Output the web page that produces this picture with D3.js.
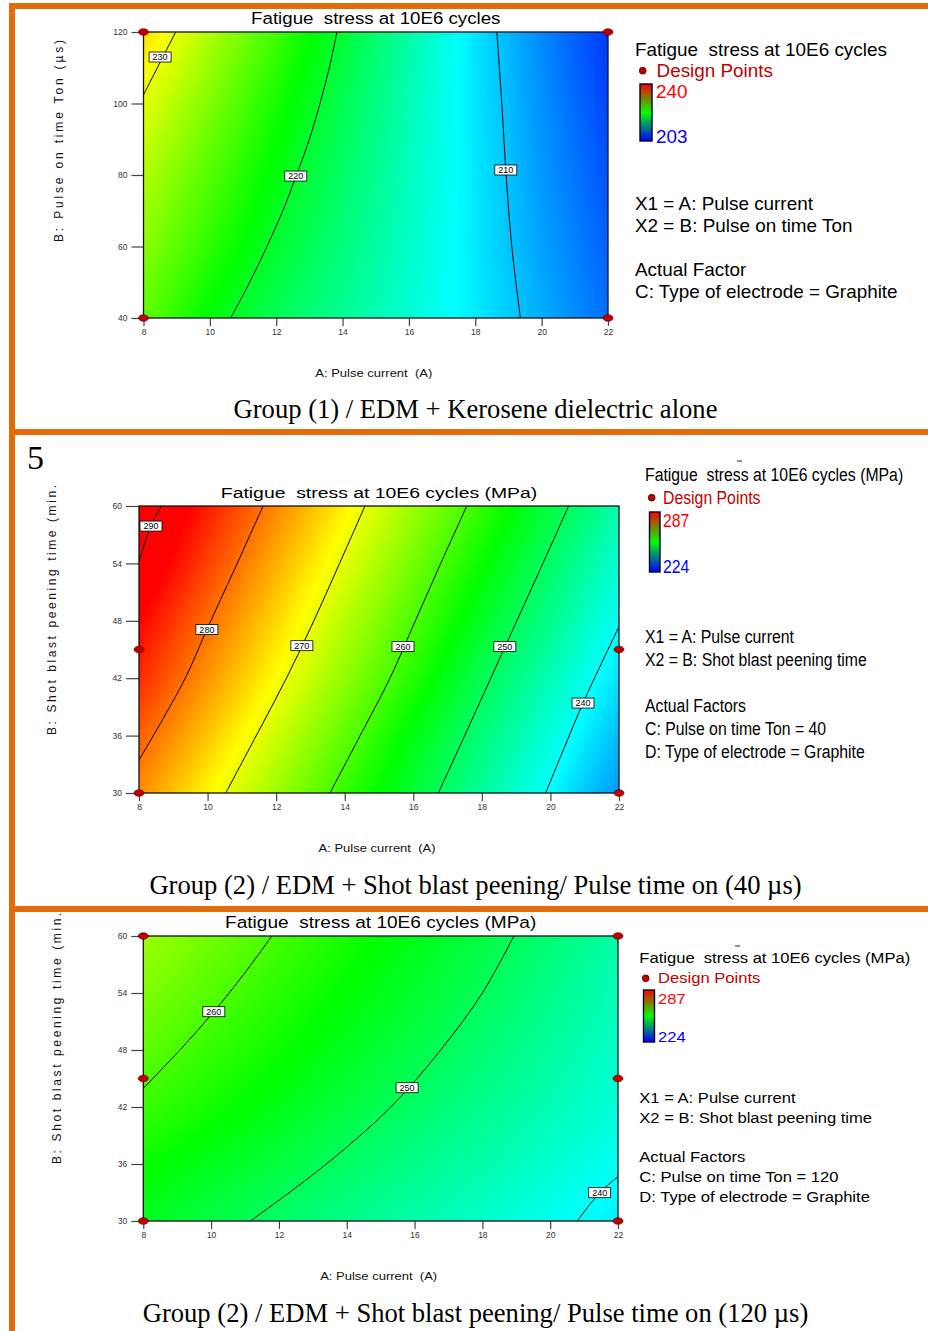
<!DOCTYPE html>
<html>
<head>
<meta charset="utf-8">
<script src="https://cdn.jsdelivr.net/npm/d3@7"></script>
<style>
  html, body { margin: 0; padding: 0; background: #fff; }
  svg { display: block; }
</style>
</head>
<body>
<svg id="chart" width="928" height="1331"></svg>
<script>
// factor levels: grid nodes and axis ticks
const pulseCurrent = [8, 10, 12, 14, 16, 18, 20, 22];
const pulseOnTime = [40, 60, 80, 100, 120];
const peeningTime = [30, 36, 42, 48, 54, 60];

// fatigue stress at the grid nodes (rows = B levels, cols = A levels)
const stressKerosene = [
  [225.0, 221.2, 218.4, 216.1, 213.8, 211.6, 209.3, 207.0],
  [226.5, 223.1, 219.8, 217.0, 214.3, 211.5, 208.9, 206.5],
  [228.0, 224.5, 221.0, 217.8, 214.6, 211.5, 208.6, 206.0],
  [229.8, 226.1, 222.3, 218.6, 215.0, 211.4, 208.3, 205.5],
  [232.0, 227.9, 223.8, 219.6, 215.5, 211.3, 208.0, 205.0]
];
const stressPeen40 = [
  [278.3, 271.7, 265.2, 258.6, 252.3, 245.9, 239.6, 233.3],
  [281.3, 274.8, 268.1, 261.4, 254.5, 248.1, 241.9, 235.6],
  [284.5, 277.8, 271.2, 264.4, 257.7, 250.5, 244.2, 238.0],
  [287.0, 280.3, 273.7, 266.8, 260.2, 253.3, 246.9, 240.2],
  [290.0, 283.0, 276.2, 269.5, 262.7, 255.9, 249.2, 242.4],
  [292.2, 285.4, 278.7, 272.0, 265.2, 258.5, 251.7, 245.0]
];
const stressPeen120 = [
  [253.5, 251.2, 249.1, 247.0, 245.0, 242.9, 240.8, 238.8],
  [256.0, 253.8, 251.6, 249.3, 247.1, 244.9, 242.6, 240.4],
  [259.1, 256.6, 254.1, 251.6, 249.2, 246.8, 244.4, 242.0],
  [261.4, 258.8, 256.2, 253.6, 251.0, 248.4, 245.7, 243.0],
  [263.4, 260.7, 258.0, 255.3, 252.7, 250.0, 247.0, 244.0],
  [265.3, 262.5, 259.7, 256.9, 254.1, 251.3, 248.3, 245.0]
];

// contour lines as [A, B] points
const contoursKerosene = [
  {level: 230, points: [[8, 102.4], [8.5, 111.5], [8.97, 120]]},
  {level: 220, points: [[10.63, 40], [11.2, 50], [11.72, 60], [12.2, 70], [12.6, 79.7], [13.0, 90],
    [13.32, 100], [13.6, 110], [13.83, 120]]},
  {level: 210, points: [[19.36, 40], [19.1, 60], [18.92, 81.4], [18.8, 100], [18.65, 120]]}
];
const contoursPeen40 = [
  {level: 290, points: [[8, 54.2], [8.35, 57.9], [8.65, 60]]},
  {level: 280, points: [[8, 33.45], [9.32, 41.8], [9.98, 47.1], [10.8, 53.5], [11.62, 60]]},
  {level: 270, points: [[10.53, 30], [11.42, 36], [12.3, 42], [13.1, 48], [13.85, 54], [14.59, 60]]},
  {level: 260, points: [[13.57, 30], [14.45, 36], [15.32, 42], [16.06, 48], [16.8, 54], [17.56, 60]]},
  {level: 250, points: [[16.73, 30], [17.5, 36], [18.26, 42], [19.02, 48], [19.78, 54], [20.53, 60]]},
  {level: 240, points: [[19.86, 30], [20.4, 34.7], [20.95, 39.4], [22, 47.4]]}
];
const contoursPeen120 = [
  {level: 260, points: [[8, 43.97], [9.08, 48], [10.08, 52.03], [10.97, 56], [11.79, 60]]},
  {level: 250, points: [[11.16, 30], [13.4, 36], [15.3, 42], [16.77, 48], [18.0, 54], [18.93, 60]]},
  {level: 240, points: [[20.8, 30], [21.46, 32.98], [22, 34.66]]}
];

// contour label boxes [A, B, text]
const labelsKerosene = [[8.5, 113, '230'], [12.59, 79.7, '220'], [18.92, 81.4, '210']];
const labelsPeen40 = [[8.35, 57.9, '290'], [9.98, 47.1, '280'], [12.75, 45.4, '270'],
  [15.7, 45.3, '260'], [18.67, 45.3, '250'], [20.95, 39.4, '240']];
const labelsPeen120 = [[10.08, 52.03, '260'], [15.78, 44.03, '250'], [21.46, 32.98, '240']];

// design points [A, B]
const designKerosene = [[8, 120], [8, 40], [22, 120], [22, 40]];
const designPeen40 = [[8, 45], [8, 30], [22, 45], [22, 30]];
const designPeen120 = [[8, 60], [8, 45], [8, 30], [22, 60], [22, 45], [22, 30]];

// colour legend ranges [low, high]
const rangeKerosene = [203, 240];
const rangePeen = [224, 287];

// texts
const plotTitles = ['Fatigue  stress at 10E6 cycles', 'Fatigue  stress at 10E6 cycles (MPa)', 'Fatigue  stress at 10E6 cycles (MPa)'];
const yTitles = ['B: Pulse on time Ton (µs)', 'B: Shot blast peening time (min.', 'B: Shot blast peening time (min.)'];
const xTitle = 'A: Pulse current  (A)';
const captions = ['Group (1) / EDM + Kerosene dielectric alone',
  'Group (2) / EDM + Shot blast peening/ Pulse time on (40 µs)',
  'Group (2) / EDM + Shot blast peening/ Pulse time on (120 µs)'];
const legendKerosene = ['X1 = A: Pulse current', 'X2 = B: Pulse on time Ton', 'Actual Factor', 'C: Type of electrode = Graphite'];
const legendPeen40 = ['X1 = A: Pulse current', 'X2 = B: Shot blast peening time', 'Actual Factors', 'C: Pulse on time Ton = 40', 'D: Type of electrode = Graphite'];
const legendPeen120 = ['X1 = A: Pulse current', 'X2 = B: Shot blast peening time', 'Actual Factors', 'C: Pulse on time Ton = 120', 'D: Type of electrode = Graphite'];

const SANS = "'Liberation Sans', Arial, Helvetica, sans-serif";
const SERIF = "'Liberation Serif', 'Times New Roman', serif";
const ORANGE = '#e36c0a';

const svg = d3.select('#chart');

const panels = [
  {
    grid: stressKerosene, bLevels: pulseOnTime, range: rangeKerosene,
    contours: contoursKerosene, labels: labelsKerosene, design: designKerosene,
    title: plotTitles[0], yTitle: yTitles[0], caption: captions[0], legend: legendKerosene,
    box: {x0: 143.5, x1: 608, y0: 32, y1: 318},
    titleY: 24, titleSize: 17, titleSx: 1.1,
    xTitleY: 377, yTitleX: 62.5, yTitleY: 242, yTitleLen: 202,
    captionY: 418.3, yTickSize: 12,
    lg: {x: 635, size: 18, sx: 1.05, titleY: 56, dpY: 76.7, dpX: 656.5, dot: [642.7, 70.7],
      bar: [640, 84, 12, 57], labX: 656, hiY: 98.3, loY: 142.7, lineYs: [210, 231.7, 276, 298.3]}
  },
  {
    grid: stressPeen40, bLevels: peeningTime, range: rangePeen,
    contours: contoursPeen40, labels: labelsPeen40, design: designPeen40,
    title: plotTitles[1], yTitle: yTitles[1], caption: captions[1], legend: legendPeen40,
    box: {x0: 139, x1: 619, y0: 506, y1: 793},
    titleY: 497.7, titleSize: 15.5, titleSx: 1.25,
    xTitleY: 852, yTitleX: 56, yTitleY: 735, yTitleLen: 250,
    captionY: 893.5, yTickSize: 13,
    lg: {x: 645, size: 18.6, sx: 0.85, titleY: 480.7, dpY: 504, dpX: 663, dot: [651.7, 497.7],
      bar: [649.5, 512, 10.5, 60], labX: 663, hiY: 526.7, loY: 572.7,
      lineYs: [643.3, 666, 711.7, 735, 758.3], dash: [737, 461]}
  },
  {
    grid: stressPeen120, bLevels: peeningTime, range: rangePeen,
    contours: contoursPeen120, labels: labelsPeen120, design: designPeen120,
    title: plotTitles[2], yTitle: yTitles[2], caption: captions[2], legend: legendPeen120,
    box: {x0: 143.3, x1: 618, y0: 936, y1: 1221},
    titleY: 928.3, titleSize: 16.3, titleSx: 1.17,
    xTitleY: 1280, yTitleX: 60.5, yTitleY: 1164, yTitleLen: 258,
    captionY: 1321.7, yTickSize: 12,
    lg: {x: 639.3, size: 15.5, sx: 1.07, titleY: 963.3, dpY: 983.3, dpX: 658, dot: [645.7, 978.3],
      bar: [643.5, 990, 11, 52], labX: 658, hiY: 1004, loY: 1042.3,
      lineYs: [1102.7, 1122.7, 1161.7, 1181.7, 1201.7], dash: [735, 946]}
  }
];

function addText(parent, x, y, str, o) {
  const g = parent.append('g')
    .attr('transform', `translate(${x},${y}) scale(${o.sx || 1},1)`);
  return g.append('text')
    .attr('font-family', o.family || SANS)
    .attr('font-size', o.size)
    .attr('fill', o.fill || '#000')
    .attr('text-anchor', o.anchor || 'start')
    .style('white-space', 'pre')
    .text(str);
}

// bilinear lookup in a value grid
function valueAt(grid, aLv, bLv, a, b) {
  const i = Math.max(0, Math.min(aLv.length - 2, d3.bisectRight(aLv, a) - 1));
  const j = Math.max(0, Math.min(bLv.length - 2, d3.bisectRight(bLv, b) - 1));
  const ta = (a - aLv[i]) / (aLv[i + 1] - aLv[i]);
  const tb = (b - bLv[j]) / (bLv[j + 1] - bLv[j]);
  return grid[j][i] * (1 - ta) * (1 - tb) + grid[j][i + 1] * ta * (1 - tb)
    + grid[j + 1][i] * (1 - ta) * tb + grid[j + 1][i + 1] * ta * tb;
}

panels.forEach((p, k) => {
  const {x0, x1, y0, y1} = p.box;
  const g = svg.append('g');

  const x = d3.scaleLinear().domain(d3.extent(pulseCurrent)).range([x0, x1]);
  const y = d3.scaleLinear().domain(d3.extent(p.bLevels)).range([y1, y0]);

  const [lo, hi] = p.range;
  const color = d3.scaleLinear()
    .domain(d3.range(5).map(s => lo + s * (hi - lo) / 4))
    .range(['#0000ff', '#00ffff', '#00ff00', '#ffff00', '#ff0000'])
    .clamp(true);

  // colour field
  const w = Math.round(x1 - x0), h = Math.round(y1 - y0);
  const canvas = document.createElement('canvas');
  canvas.width = w;
  canvas.height = h;
  const ctx = canvas.getContext('2d');
  const img = ctx.createImageData(w, h);
  for (let py = 0; py < h; py++) {
    const b = y.invert(y0 + py + 0.5);
    for (let px = 0; px < w; px++) {
      const a = x.invert(x0 + px + 0.5);
      const c = d3.rgb(color(valueAt(p.grid, pulseCurrent, p.bLevels, a, b)));
      const o = (py * w + px) * 4;
      img.data[o] = c.r;
      img.data[o + 1] = c.g;
      img.data[o + 2] = c.b;
      img.data[o + 3] = 255;
    }
  }
  ctx.putImageData(img, 0, 0);
  g.append('image')
    .attr('x', x0).attr('y', y0)
    .attr('width', x1 - x0).attr('height', y1 - y0)
    .attr('preserveAspectRatio', 'none')
    .attr('href', canvas.toDataURL());

  // contours
  const clipId = 'clip' + k;
  g.append('clipPath').attr('id', clipId)
    .append('rect').attr('x', x0).attr('y', y0).attr('width', x1 - x0).attr('height', y1 - y0);

  const line = d3.line()
    .curve(d3.curveCatmullRom)
    .x(d => x(d[0]))
    .y(d => y(d[1]));

  g.append('g').attr('clip-path', `url(#${clipId})`)
    .selectAll('path')
    .data(p.contours)
    .join('path')
    .attr('d', d => line(d.points))
    .attr('fill', 'none')
    .attr('stroke', '#000')
    .attr('stroke-width', 1);

  const lab = g.append('g').selectAll('g')
    .data(p.labels)
    .join('g')
    .attr('transform', d => `translate(${x(d[0])},${y(d[1])})`);
  lab.append('rect')
    .attr('x', -11).attr('y', -5).attr('width', 22).attr('height', 10)
    .attr('fill', '#fff').attr('stroke', '#000').attr('stroke-width', 0.8);
  lab.append('text')
    .attr('font-family', SANS).attr('font-size', 9)
    .attr('text-anchor', 'middle').attr('dy', '0.35em')
    .text(d => d[2]);

  // axes
  const yAxis = g.append('g')
    .attr('transform', `translate(${x0},0)`)
    .call(d3.axisLeft(y).tickValues(p.bLevels).tickSize(p.yTickSize).tickPadding(4));
  const xAxis = g.append('g')
    .attr('transform', `translate(0,${y1})`)
    .call(d3.axisBottom(x).tickValues(pulseCurrent).tickSize(8).tickPadding(3));
  [xAxis, yAxis].forEach(ax => {
    ax.select('.domain').remove();
    ax.selectAll('.tick line').attr('stroke', '#444').attr('stroke-width', 1.2);
    ax.selectAll('.tick text').attr('font-family', SANS).attr('font-size', 8.5).attr('fill', '#333');
  });

  g.append('rect')
    .attr('x', x0).attr('y', y0).attr('width', x1 - x0).attr('height', y1 - y0)
    .attr('fill', 'none').attr('stroke', '#111').attr('stroke-width', 1.3);

  // design points
  g.append('g').selectAll('ellipse')
    .data(p.design)
    .join('ellipse')
    .attr('cx', d => x(d[0]))
    .attr('cy', d => y(d[1]))
    .attr('rx', 5).attr('ry', 3.3)
    .attr('fill', '#c00000').attr('stroke', '#5a0000').attr('stroke-width', 0.7);

  // titles
  const cx = (x0 + x1) / 2;
  addText(g, cx, p.titleY, p.title, {size: p.titleSize, sx: p.titleSx, anchor: 'middle'});
  addText(g, cx - 2, p.xTitleY, xTitle, {size: 11.5, sx: 1.13, anchor: 'middle', fill: '#111'});
  g.append('text')
    .attr('transform', `translate(${p.yTitleX},${p.yTitleY}) rotate(-90)`)
    .attr('font-family', SANS).attr('font-size', 12).attr('fill', '#111')
    .attr('textLength', p.yTitleLen).attr('lengthAdjust', 'spacing')
    .text(p.yTitle);
  addText(g, 475.5, p.captionY, p.caption, {size: 26.6, family: SERIF, anchor: 'middle'});

  // legend
  const L = p.lg;
  const lo_ = {size: L.size, sx: L.sx};
  addText(g, L.x, L.titleY, p.title, lo_);
  g.append('circle').attr('cx', L.dot[0]).attr('cy', L.dot[1]).attr('r', 3.4)
    .attr('fill', '#c00000').attr('stroke', '#400').attr('stroke-width', 0.8);
  addText(g, L.dpX, L.dpY, 'Design Points', {...lo_, fill: '#c00000'});

  const gradId = 'grad' + k;
  const grad = g.append('linearGradient').attr('id', gradId)
    .attr('x1', 0).attr('y1', 0).attr('x2', 0).attr('y2', 1);
  grad.append('stop').attr('offset', '0%').attr('stop-color', '#ff0000');
  grad.append('stop').attr('offset', '50%').attr('stop-color', '#00ff00');
  grad.append('stop').attr('offset', '100%').attr('stop-color', '#0000ff');
  g.append('rect')
    .attr('x', L.bar[0]).attr('y', L.bar[1]).attr('width', L.bar[2]).attr('height', L.bar[3])
    .attr('fill', `url(#${gradId})`).attr('stroke', '#000030').attr('stroke-width', 1.4);
  addText(g, L.labX, L.hiY, String(hi), {...lo_, fill: '#ff0000'});
  addText(g, L.labX, L.loY, String(lo), {...lo_, fill: '#0000ff'});

  p.legend.forEach((s, i) => addText(g, L.x, L.lineYs[i], s, lo_));

  if (L.dash) {
    g.append('line')
      .attr('x1', L.dash[0]).attr('x2', L.dash[0] + 5)
      .attr('y1', L.dash[1]).attr('y2', L.dash[1])
      .attr('stroke', '#222').attr('stroke-width', 1);
  }
});

// the orange page frame and separators
const frame = svg.append('g').attr('fill', ORANGE);
frame.append('rect').attr('x', 9).attr('y', 3).attr('width', 919).attr('height', 6);
frame.append('rect').attr('x', 9).attr('y', 3).attr('width', 6).attr('height', 1328);
frame.append('rect').attr('x', 9).attr('y', 429).attr('width', 919).attr('height', 6);
frame.append('rect').attr('x', 9).attr('y', 906).attr('width', 919).attr('height', 6);

// page number
addText(svg, 27, 469, '5', {size: 34, family: SERIF});
</script>
</body>
</html>
